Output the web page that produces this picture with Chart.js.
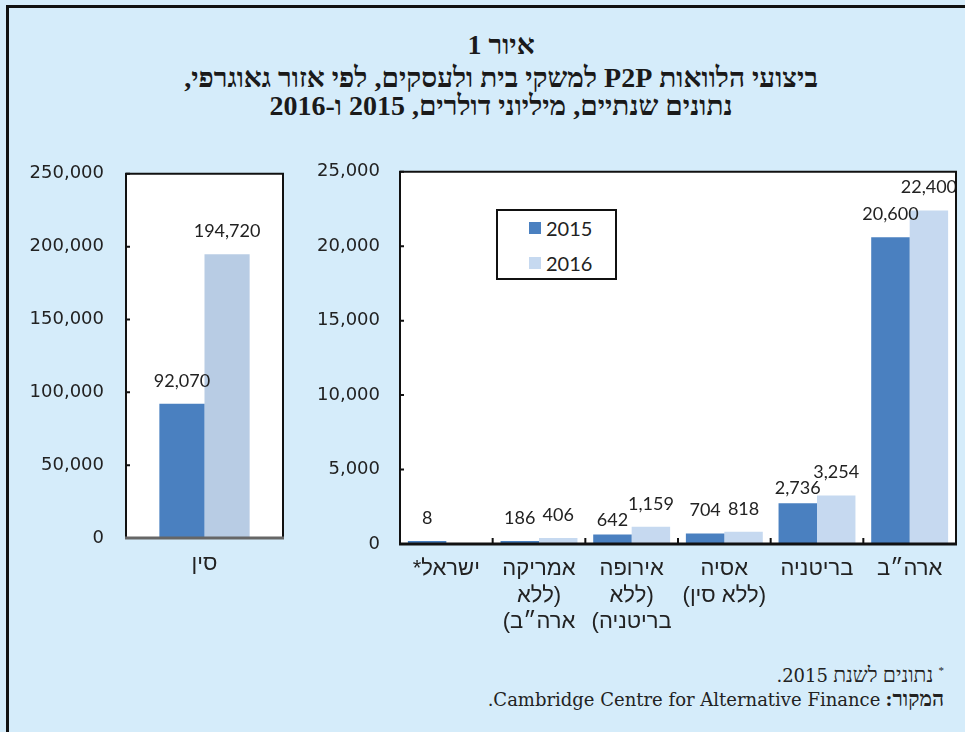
<!DOCTYPE html>
<html lang="he">
<head>
<meta charset="utf-8">
<script src="https://cdn.jsdelivr.net/npm/chart.js@4.4.1/dist/chart.umd.min.js"></script>
<style>
  body { margin: 0; width: 965px; height: 732px; background: #d5ecfa; overflow: hidden; position: relative; font-family: 'Liberation Sans', sans-serif; }
  .frame { position: absolute; left: 6px; top: 5px; width: 1000px; height: 800px; border-left: 3px solid #111; border-top: 3px solid #111; }
  .title { position: absolute; left: 0; width: 1002px; text-align: center; direction: rtl; font-family: 'Liberation Serif', serif; font-weight: bold; font-size: 28px; color: #1a1a1a; line-height: 28px; white-space: nowrap; }
  .box { position: absolute; }
  canvas { direction: rtl; }
  #legend { position: absolute; left: 496px; top: 209px; width: 117px; height: 67px; border: 2px solid #111; background: #fff; font-family: Lato, sans-serif; font-size: 20px; color: #222; }
  #legend .item { position: absolute; left: 31px; display: flex; align-items: center; }
  #legend .sw { width: 12px; height: 12px; margin-right: 5px; }
  .note { position: absolute; right: 21px; direction: rtl; font-family: 'Liberation Serif', serif; font-size: 21px; color: #222; white-space: nowrap; line-height: 24px; }
  .note .en { font-family: 'DejaVu Serif', serif; font-size: 18px; }
</style>
</head>
<body>
<div class="frame"></div>
<div class="title" style="top:31px">איור 1</div>
<div class="title" style="top:64px">ביצועי הלוואות P2P למשקי בית ולעסקים, לפי אזור גאוגרפי,</div>
<div class="title" style="top:92px">נתונים שנתיים, מיליוני דולרים, 2015 ו-2016</div>

<div class="box" style="left:20px; top:141px; width:280px; height:449px;"><canvas id="china"></canvas></div>
<div class="box" style="left:300px; top:141px; width:665px; height:509px;"><canvas id="regions"></canvas></div>
<div id="legend"></div>

<div class="note" style="top:658px"><sup style="font-size:11px">*</sup> נתונים לשנת <span class="en">2015.</span></div>
<div class="note" style="top:687px"><b>המקור:</b> <span class="en">Cambridge Centre for Alternative Finance.</span></div>

<script>
// values in millions of dollars
const years = ['2015', '2016'];
const chinaLabel = ['סין'];
const china2015 = [92070];
const china2016 = [194720];

const regionLabels = [
    ['ישראל*'],
    ['אמריקה', '(ללא', 'ארה״ב)'],
    ['אירופה', '(ללא', 'בריטניה)'],
    ['אסיה', '(ללא סין)'],
    ['בריטניה'],
    ['ארה״ב'],
];
const regions2015 = [8, 186, 642, 704, 2736, 20600];
const regions2016 = [null, 406, 1159, 818, 3254, 22400];

const chinaTicks = [0, 50000, 100000, 150000, 200000, 250000];
const regionTicks = [0, 5000, 10000, 15000, 20000, 25000];

const dark = '#4a80c0';
const fmt = v => v.toLocaleString('en-US');

// white plot area + frame around it
const plotFrame = {
    id: 'plotFrame',
    beforeDraw(chart) {
        const {ctx, chartArea: a} = chart;
        ctx.save();
        ctx.fillStyle = '#fff';
        ctx.fillRect(a.left, a.top, a.width, a.height);
        ctx.restore();
    },
    afterDraw(chart, args, opts) {
        const {ctx, chartArea: a} = chart;
        ctx.save();
        ctx.strokeStyle = '#111';
        ctx.lineWidth = 2;
        ctx.beginPath();
        ctx.moveTo(a.left, a.bottom);
        ctx.lineTo(a.left, a.top);
        ctx.lineTo(a.right, a.top);
        ctx.lineTo(a.right, a.bottom);
        ctx.stroke();
        ctx.strokeStyle = opts.baseColor;
        ctx.lineWidth = 3;
        ctx.beginPath();
        ctx.moveTo(a.left - 1, a.bottom);
        ctx.lineTo(a.right + 1, a.bottom);
        ctx.stroke();
        ctx.restore();
    }
};

// short tick marks pointing into the plot
const innerTicks = {
    id: 'innerTicks',
    afterDatasetsDraw(chart, args, opts) {
        const {ctx, chartArea: a, scales: {x, y}} = chart;
        ctx.save();
        ctx.strokeStyle = '#111';
        ctx.lineWidth = 2;
        ctx.beginPath();
        y.ticks.forEach((t, i) => {
            const py = y.getPixelForTick(i);
            ctx.moveTo(a.left, py);
            ctx.lineTo(a.left + opts.len, py);
        });
        if (opts.between) {
            for (let i = 1; i < x.ticks.length; i++) {
                const px = (x.getPixelForTick(i - 1) + x.getPixelForTick(i)) / 2;
                ctx.moveTo(px, a.bottom);
                ctx.lineTo(px, a.bottom - opts.len - 2);
            }
        }
        ctx.stroke();
        ctx.restore();
    }
};

// value labels above the bars; a 2015 label that would run into
// the 2016 label next to it is pushed down below that one
const barValues = {
    id: 'barValues',
    afterDatasetsDraw(chart) {
        const {ctx} = chart;
        ctx.save();
        ctx.font = '18px Lato';
        ctx.fillStyle = '#222';
        ctx.textAlign = 'center';
        ctx.textBaseline = 'bottom';
        const gap = 14, h = 16;
        const boxes = chart.data.datasets.map((ds, di) =>
            chart.getDatasetMeta(di).data.map((bar, i) => {
                if (ds.data[i] == null) return null;
                const text = fmt(ds.data[i]);
                const w = ctx.measureText(text).width;
                return {text, x: bar.x, y: bar.y - gap, w, barY: bar.y};
            }));
        boxes[0].forEach((b, i) => {
            const o = boxes[1] && boxes[1][i];
            if (!b || !o) return;
            const xOverlap = Math.abs(b.x - o.x) < (b.w + o.w) / 2;
            const yOverlap = Math.abs(b.y - o.y) < h;
            if (xOverlap && yOverlap) b.y = Math.min(o.y + h, b.barY - 2);
        });
        boxes.flat().forEach(b => { if (b) ctx.fillText(b.text, b.x, b.y); });
        ctx.restore();
    }
};

function makeOptions(ticks, axisWidth, axisHeight, pad, xPad, yPad) {
    return {
        responsive: true,
        maintainAspectRatio: false,
        animation: false,
        layout: { padding: pad },
        plugins: {
            legend: { display: false },
            tooltip: { enabled: false },
        },
        scales: {
            x: {
                afterFit: scale => { scale.height = axisHeight; },
                grid: { display: false, drawTicks: false },
                border: { display: false },
                ticks: {
                    color: '#222',
                    padding: xPad,
                    maxRotation: 0,
                    font: { family: 'Liberation Sans', size: 22, lineHeight: 1.2 },
                },
            },
            y: {
                min: ticks[0],
                max: ticks[ticks.length - 1],
                afterFit: scale => { scale.width = axisWidth; },
                afterBuildTicks: scale => { scale.ticks = ticks.map(v => ({value: v})); },
                grid: { display: false, drawTicks: false },
                border: { display: false },
                ticks: {
                    color: '#222',
                    padding: yPad,
                    font: { family: 'DejaVu Sans', size: 18 },
                    callback: v => fmt(v),
                },
            },
        },
    };
}

const chinaOpts = makeOptions(chinaTicks, 106, 52, {top: 0, right: 17, bottom: 0, left: 0}, 13, 22);
chinaOpts.plugins.plotFrame = { baseColor: '#666' };
chinaOpts.plugins.innerTicks = { len: 4, between: false };
chinaOpts.datasets = { bar: { categoryPercentage: 0.575, barPercentage: 1 } };

new Chart('china', {
    type: 'bar',
    data: {
        labels: chinaLabel,
        datasets: [
            { label: years[0], data: china2015, backgroundColor: dark, borderWidth: 0 },
            { label: years[1], data: china2016, backgroundColor: '#b8cce4', borderWidth: 0 },
        ],
    },
    options: chinaOpts,
    plugins: [plotFrame, innerTicks, barValues],
});

const regionOpts = makeOptions(regionTicks, 100, 106, {top: 0, right: 9, bottom: 0, left: 0}, 12, 20);
regionOpts.plugins.plotFrame = { baseColor: '#111' };
regionOpts.plugins.innerTicks = { len: 4, between: true };
regionOpts.datasets = { bar: { categoryPercentage: 0.83, barPercentage: 1 } };

const regionChart = new Chart('regions', {
    type: 'bar',
    data: {
        labels: regionLabels,
        datasets: [
            { label: years[0], data: regions2015, backgroundColor: dark, borderWidth: 0, minBarLength: 3 },
            { label: years[1], data: regions2016, backgroundColor: '#c6d9f0', borderWidth: 0 },
        ],
    },
    options: regionOpts,
    plugins: [plotFrame, innerTicks, barValues],
});

// legend box drawn from the dataset list
const legend = document.getElementById('legend');
regionChart.data.datasets.forEach((ds, i) => {
    const item = document.createElement('div');
    item.className = 'item';
    item.style.top = (i === 0 ? 5 : 40) + 'px';
    item.innerHTML = '<span class="sw" style="background:' + ds.backgroundColor + '"></span><span>' + ds.label + '</span>';
    legend.appendChild(item);
});
</script>
</body>
</html>
